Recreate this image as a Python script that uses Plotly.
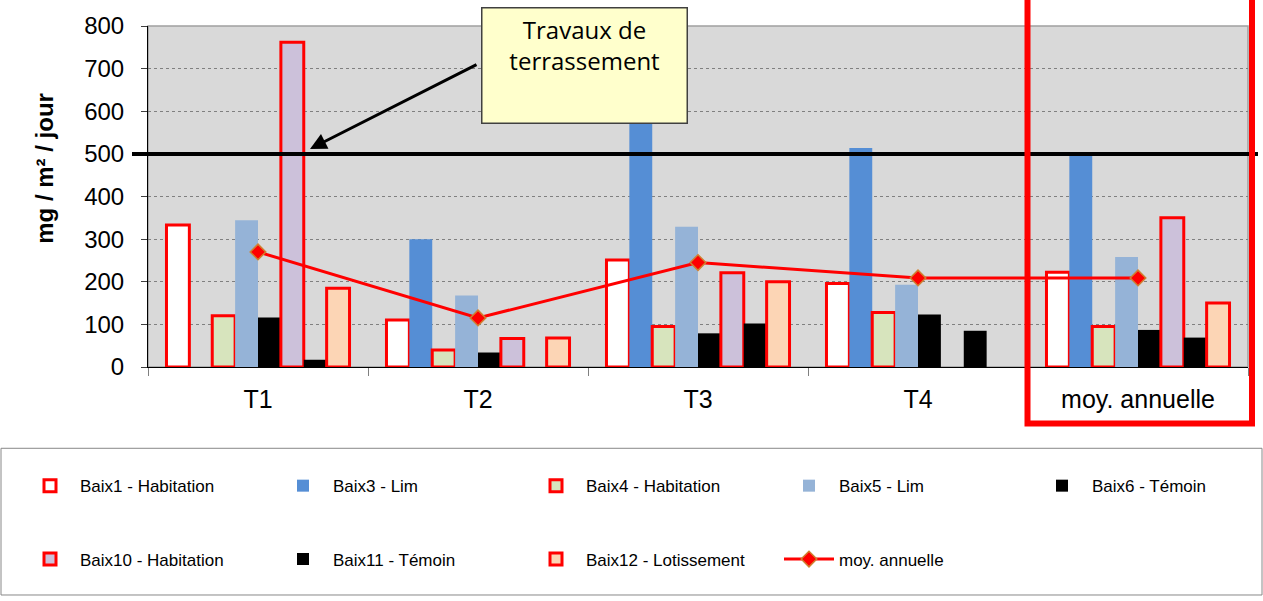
import plotly.graph_objects as go

# ---- data ----
categories = ["T1", "T2", "T3", "T4", "moy. annuelle"]
baix1 = [333, 110, 251, 196, 222]
baix3 = [None, 300, 675, 514, 497]
baix4 = [120, 40, 95, 128, 95]
baix5 = [344, 168, 329, 193, 258]
baix6 = [116, 34, 79, 123, 87]
baix10 = [762, 67, 221, None, 350]
baix11 = [17, None, 102, 85, 69]
baix12 = [185, 68, 200, None, 150]
moy_annuelle = [270, 115, 245, 209, 209]
seuil = 500
y_ticks = [0, 100, 200, 300, 400, 500, 600, 700, 800]

RED = "#FF0000"
series = [
    ("Baix1 - Habitation", baix1, "#FFFFFF", RED, 3, "legend", None),
    ("Baix3 - Lim", baix3, "#558ED5", None, 0, "legend", None),
    ("Baix4 - Habitation", baix4, "#D7E4BD", RED, 3, "legend", None),
    ("Baix5 - Lim", baix5, "#95B3D7", None, 0, "legend", None),
    ("Baix6 - Témoin", baix6, "#000000", None, 0, "legend", 120),
    ("Baix10 - Habitation", baix10, "#CCC1DA", RED, 3, "legend2", None),
    ("Baix11 - Témoin", baix11, "#000000", None, 0, "legend2", None),
    ("Baix12 - Lotissement", baix12, "#FCD5B5", RED, 3, "legend2", None),
]

fig = go.Figure()
for name, vals, fill, lc, lw, lg, lgw in series:
    kw = {}
    if lgw is not None:
        kw["legendwidth"] = lgw
    fig.add_trace(go.Bar(
        x=categories, y=vals, name=name,
        marker=dict(color=fill, line=dict(color=lc if lc else fill, width=lw)),
        legend=lg, **kw))

fig.add_trace(go.Scatter(
    x=categories, y=moy_annuelle, name="moy. annuelle", mode="lines+markers",
    line=dict(color=RED, width=3),
    marker=dict(symbol="diamond", size=12, color=RED, line=dict(color="#D08030", width=1.5)),
    legend="legend2"))

# pixel geometry helpers (plot area: x 148..1248, y 23..367)
L, R, T, B = 148, 15, 23, 234
W, H = 1263, 601
PW, PH = W - L - R, H - T - B
def px(xp):
    return (xp - L) / PW
def py(yp):
    return (H - B - yp) / PH

legend_common = dict(orientation="h", xanchor="left", yanchor="top",
                     font=dict(family="Liberation Sans, Arial", size=17, color="#000000"),
                     bgcolor="rgba(0,0,0,0)", itemwidth=50, entrywidth=188,
                     itemclick=False, itemdoubleclick=False)

fig.update_layout(
    width=W, height=H,
    margin=dict(l=L, r=R, t=T, b=B),
    paper_bgcolor="#FFFFFF",
    plot_bgcolor="#D9D9D9",
    barmode="group", bargap=0.168, bargroupgap=0,
    font=dict(family="Liberation Sans, Arial", color="#000000"),
    legend=dict(x=px(20), y=py(469), **legend_common),
    legend2=dict(x=px(20), y=py(543), **legend_common),
    xaxis=dict(
        type="category", showline=True, linecolor="#000000", linewidth=1,
        ticks="outside", tickson="boundaries", ticklen=8, tickcolor="#808080",
        tickfont=dict(size=25), showgrid=False, ticklabelstandoff=10,
    ),
    yaxis=dict(
        range=[0, 800], tickvals=y_ticks, showline=True, linecolor="#000000",
        linewidth=1, ticks="outside", ticklen=6, tickcolor="#404040",
        tickfont=dict(size=24), showgrid=True, gridcolor="#808080",
        griddash="dot", gridwidth=1, zeroline=False, ticklabelstandoff=12,
    ),
    shapes=[
        # plot-area frame (top / right gray border)
        dict(type="rect", xref="paper", yref="paper", x0=0, x1=1, y0=0, y1=1,
             line=dict(color="#A0A0A0", width=1.5), fillcolor="rgba(0,0,0,0)", layer="below"),
        # threshold line at 500
        dict(type="line", xref="paper", yref="y", x0=px(132), x1=px(1258), y0=seuil, y1=seuil,
             line=dict(color="#000000", width=4), layer="above"),
        # red frame around the annual mean
        dict(type="rect", xref="paper", yref="paper", x0=px(1027.5), x1=px(1252),
             y0=py(424), y1=py(-10), line=dict(color=RED, width=6), fillcolor="rgba(0,0,0,0)"),
        # legend frame
        dict(type="rect", xref="paper", yref="paper", x0=px(1), x1=px(1262),
             y0=py(597), y1=py(449), line=dict(color="#888888", width=1),
             fillcolor="rgba(0,0,0,0)"),
    ],
    annotations=[
        # y-axis title (placed like the original, above the axis centre)
        dict(text="<b>mg / m² / jour</b>", xref="paper", yref="paper",
             x=px(45), y=py(167), xanchor="center", yanchor="middle",
             textangle=-90, showarrow=False, font=dict(size=24, color="#000000")),
        dict(text="Travaux de<br>terrassement", xref="paper", yref="paper",
             x=px(584), y=py(4), xanchor="center", yanchor="top",
             showarrow=False, align="center", valign="top",
             width=196, height=106, borderpad=4,
             bgcolor="#FFFFCC", bordercolor="#404040", borderwidth=1.5,
             font=dict(family="Open Sans", size=24, color="#000000")),
        dict(text="", xref="paper", yref="paper", x=px(310), y=py(147),
             ax=168, ay=-85, showarrow=True, arrowhead=2, arrowsize=1.1,
             arrowwidth=3, arrowcolor="#000000"),
    ],
)

fig.write_html("out.html", config={"displayModeBar": False},
               post_script="document.body.style.margin='0px';")
